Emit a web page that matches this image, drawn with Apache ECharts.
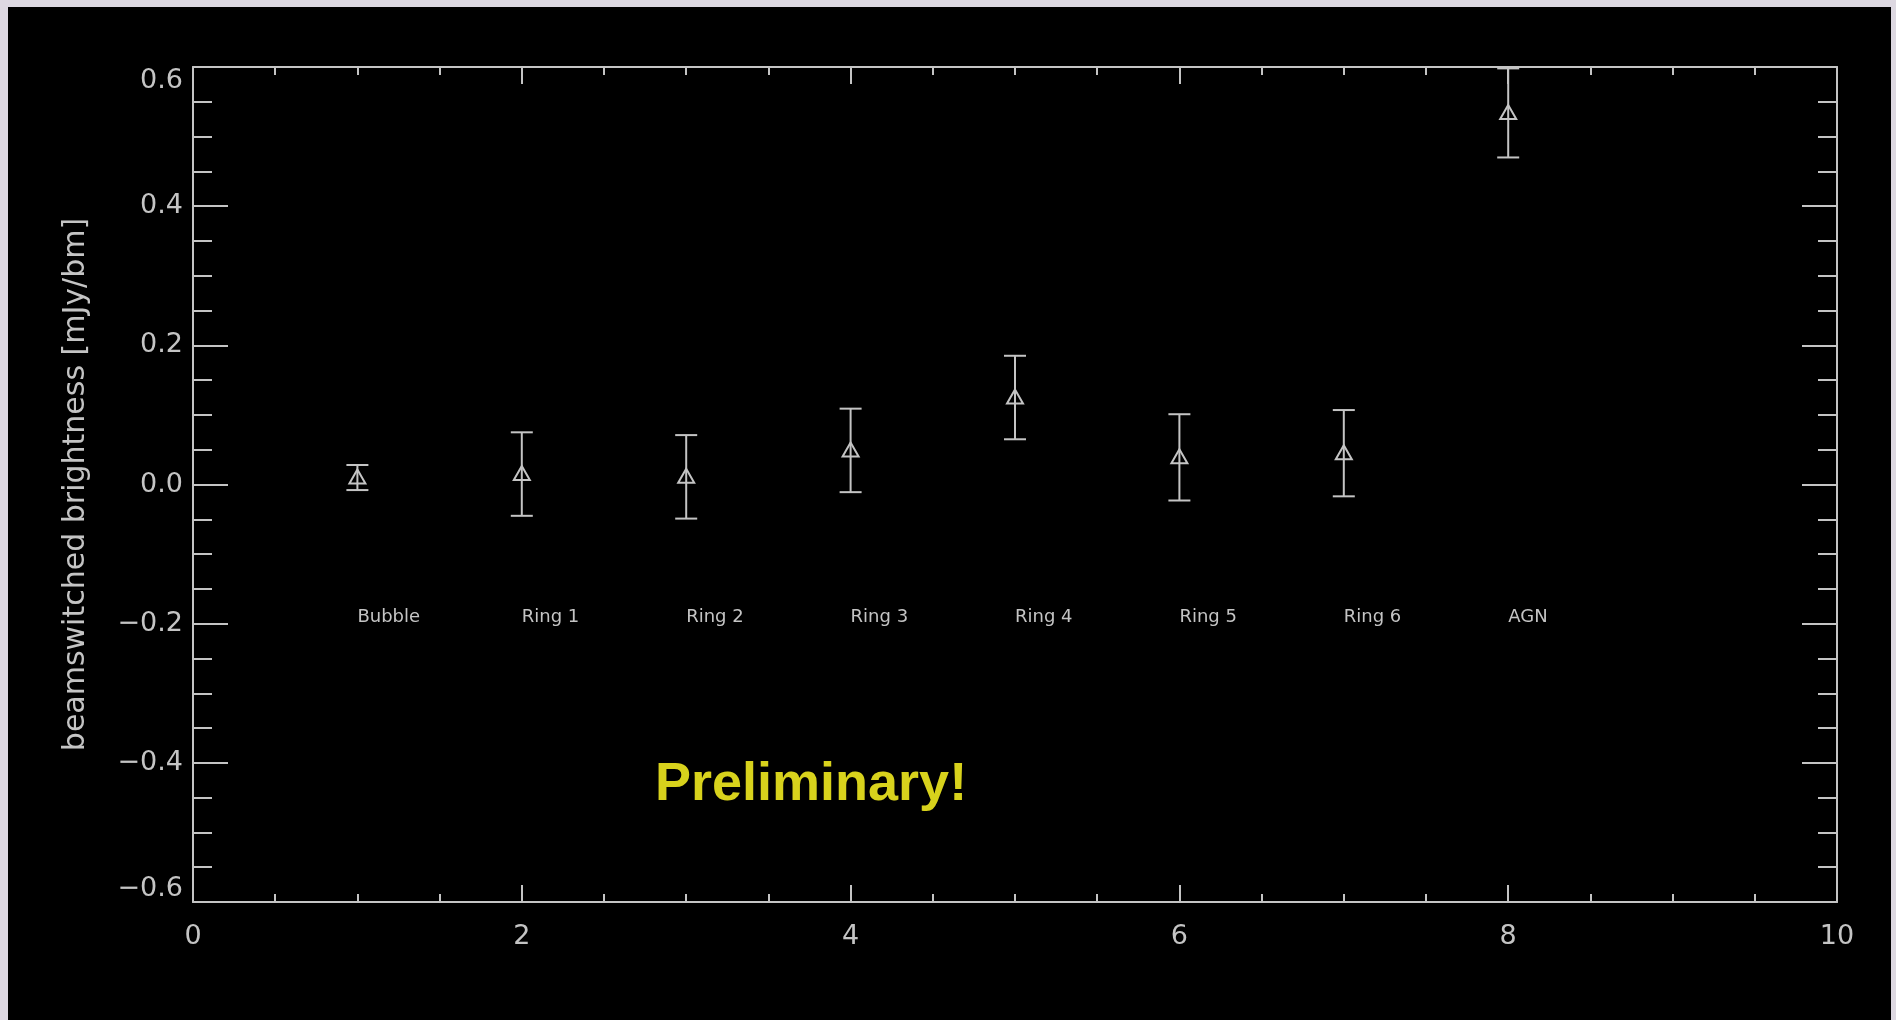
<!DOCTYPE html>
<html>
<head>
<meta charset="utf-8">
<title>beamswitched brightness</title>
<script src="https://cdn.jsdelivr.net/npm/echarts@6/dist/echarts.min.js"></script>
<style>
  html, body { margin: 0; padding: 0; width: 1896px; height: 1020px; overflow: hidden; background: #ddd8e1; }
  #frame { position: absolute; left: 8px; top: 7px; width: 1883px; height: 1013px; background: #000; }
  #chart { position: absolute; left: 0; top: 0; width: 1896px; height: 1020px; }
</style>
</head>
<body>
<div id="frame"></div>
<div id="chart"></div>
<script>
// Regions measured, their x positions on the plot, mean brightness and 1-sigma errors (mJy/bm)
const regionNames = ['Bubble', 'Ring 1', 'Ring 2', 'Ring 3', 'Ring 4', 'Ring 5', 'Ring 6', 'AGN'];
const regionX     = [1, 2, 3, 4, 5, 6, 7, 8];
const brightness  = [0.010, 0.015, 0.011, 0.049, 0.125, 0.039, 0.045, 0.534];
const errors      = [0.018, 0.060, 0.060, 0.060, 0.060, 0.062, 0.062, 0.064];
const labelLevel  = -0.2;   // height at which region names are written

const ink = '#c4c4c4';
const tickFont = 'DejaVu Sans';

const points = regionX.map((x, i) => [x, brightness[i], errors[i]]);
const labels = regionX.map((x, i) => [x, labelLevel, regionNames[i]]);

function fmtY(v) {
  const s = Math.abs(v).toFixed(1);
  return v < -1e-9 ? '\u2212' + s : s;
}

const xCommon = {
  type: 'value', min: 0, max: 10, interval: 2,
  axisLine: { show: true, onZero: false, lineStyle: { color: ink, width: 2 } },
  axisTick: { show: true, inside: true, length: 17, lineStyle: { color: ink, width: 2 } },
  minorTick: { show: true, splitNumber: 4, length: 8, lineStyle: { color: ink, width: 2 } },
  splitLine: { show: false },
  minorSplitLine: { show: false }
};
const yCommon = {
  type: 'value', min: -0.6, max: 0.6, interval: 0.2,
  axisLine: { show: true, onZero: false, lineStyle: { color: ink, width: 2 } },
  axisTick: { show: true, inside: true, length: 35, lineStyle: { color: ink, width: 2 } },
  minorTick: { show: true, splitNumber: 4, length: 19, lineStyle: { color: ink, width: 2 } },
  splitLine: { show: false },
  minorSplitLine: { show: false }
};

const chart = echarts.init(document.getElementById('chart'), null, { renderer: 'canvas' });

chart.setOption({
  backgroundColor: 'transparent',
  animation: false,
  grid: { left: 193, right: 59, top: 67, bottom: 118, containLabel: false },
  xAxis: [
    Object.assign({}, xCommon, {
      position: 'bottom',
      axisLabel: { show: true, margin: 21, color: ink, fontFamily: tickFont, fontSize: 27, formatter: v => String(v) }
    }),
    Object.assign({}, xCommon, { position: 'top', axisLabel: { show: false } })
  ],
  yAxis: [
    Object.assign({}, yCommon, {
      position: 'left',
      name: 'beamswitched brightness [mJy/bm]',
      nameLocation: 'middle',
      nameGap: 102,
      nameTextStyle: { color: ink, fontFamily: tickFont, fontSize: 30 },
      axisLabel: {
        show: true, margin: 10, color: ink, fontFamily: tickFont, fontSize: 27,
        formatter: fmtY,
        verticalAlignMaxLabel: 'top',
        verticalAlignMinLabel: 'bottom'
      }
    }),
    Object.assign({}, yCommon, { position: 'right', axisLabel: { show: false } })
  ],
  series: [
    {
      // error bars with caps and an open triangle at each mean
      type: 'custom',
      xAxisIndex: 0, yAxisIndex: 0,
      clip: false,
      data: points,
      renderItem: function (params, api) {
        const x = api.value(0), y = api.value(1), e = api.value(2);
        const top = api.coord([x, y + e]);
        const bot = api.coord([x, y - e]);
        const c = api.coord([x, y]);
        const cap = 11;
        const stroke = { stroke: ink, lineWidth: 2, fill: null };
        return {
          type: 'group',
          children: [
            { type: 'line', shape: { x1: top[0], y1: top[1], x2: bot[0], y2: bot[1] }, style: stroke },
            { type: 'line', shape: { x1: top[0] - cap, y1: top[1], x2: top[0] + cap, y2: top[1] }, style: stroke },
            { type: 'line', shape: { x1: bot[0] - cap, y1: bot[1], x2: bot[0] + cap, y2: bot[1] }, style: stroke },
            { type: 'polygon', shape: { points: [[c[0], c[1] - 8], [c[0] - 8, c[1] + 6], [c[0] + 8, c[1] + 6]] },
              style: { stroke: ink, lineWidth: 2, fill: null } }
          ]
        };
      }
    },
    {
      // region names written below the points
      type: 'custom',
      xAxisIndex: 0, yAxisIndex: 0,
      clip: false,
      data: labels,
      renderItem: function (params, api) {
        const p = api.coord([api.value(0), api.value(1)]);
        return {
          type: 'text',
          x: p[0], y: p[1] - 6,
          style: {
            text: labels[params.dataIndex][2],
            fill: ink,
            font: '18px "DejaVu Sans"',
            align: 'left',
            verticalAlign: 'middle'
          }
        };
      }
    }
  ],
  graphic: [
    {
      type: 'text',
      left: 655,
      top: 758,
      style: {
        text: 'Preliminary!',
        fill: '#d8d21c',
        font: 'bold 54px "Liberation Sans"',
        shadowColor: 'rgba(216,210,28,0.5)',
        shadowBlur: 4
      }
    }
  ]
});
</script>
</body>
</html>
